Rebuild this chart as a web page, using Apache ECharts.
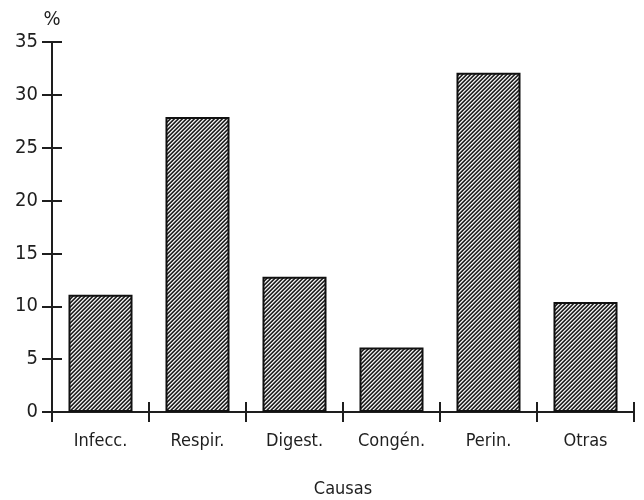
<!DOCTYPE html>
<html>
<head>
<meta charset="utf-8">
<script src="https://cdn.jsdelivr.net/npm/echarts@6/dist/echarts.min.js"></script>
<style>
  html, body { margin: 0; padding: 0; background: #fff; }
  #chart { width: 644px; height: 500px; }
</style>
</head>
<body>
<div id="chart"></div>
<script>
// datos
const causas = ['Infecc.', 'Respir.', 'Digest.', 'Congén.', 'Perin.', 'Otras'];
const porcentajes = [11.1, 27.9, 12.8, 6.1, 32.1, 10.4];
const yTicks = [0, 5, 10, 15, 20, 25, 30, 35];

const FONT = '"Liberation Sans Narrow", "DejaVu Sans Condensed", "Liberation Sans", sans-serif';
const INK = '#1e1e1e';

// trama diagonal tipo fotocopia
function makePattern() {
    const c = document.createElement('canvas');
    c.width = 4;
    c.height = 4;
    const ctx = c.getContext('2d');
    const tonos = ['#1a1a1a', '#4a4a4a', '#eeeeee', '#a0a0a0'];
    for (let x = 0; x < 4; x++) {
        for (let y = 0; y < 4; y++) {
            ctx.fillStyle = tonos[(x + y) % 4];
            ctx.fillRect(x, y, 1, 1);
        }
    }
    return c;
}

const chart = echarts.init(document.getElementById('chart'));

const yBase = {
    type: 'value',
    min: 0,
    max: 35,
    interval: 5,
    splitLine: { show: false },
};

const option = {
    animation: false,
    backgroundColor: '#fff',
    grid: { left: 52, right: 10, top: 42, bottom: 88, outerBoundsMode: 'none' },
    xAxis: [
        {
            type: 'category',
            data: causas,
            name: 'Causas',
            nameLocation: 'middle',
            nameGap: 68,
            nameTextStyle: { fontFamily: FONT, fontSize: 18, color: INK },
            axisLine: { lineStyle: { color: INK, width: 2 } },
            axisTick: { show: true, length: 10, lineStyle: { color: INK, width: 2 } },
            axisLabel: { fontFamily: FONT, fontSize: 18, color: INK, margin: 20 },
        },
        {
            type: 'category',
            data: causas,
            position: 'bottom',
            axisLine: { show: false },
            axisTick: { show: true, inside: true, length: 10, lineStyle: { color: INK, width: 2 } },
            axisLabel: { show: false },
        }
    ],
    yAxis: [
        Object.assign({}, yBase, {
            name: '%',
            nameLocation: 'end',
            nameGap: 12,
            nameTextStyle: { fontFamily: FONT, fontSize: 20, color: INK, align: 'center' },
            axisLine: { show: true, lineStyle: { color: INK, width: 2 } },
            axisTick: { show: true, length: 10, lineStyle: { color: INK, width: 2 } },
            axisLabel: {
                fontFamily: FONT, fontSize: 20, color: INK, margin: 14,
                customValues: yTicks
            },
        }),
        Object.assign({}, yBase, {
            position: 'left',
            axisLine: { show: false },
            axisTick: { show: true, inside: true, length: 10, lineStyle: { color: INK, width: 2 } },
            axisLabel: { show: false },
        })
    ],
    series: [
        {
            type: 'bar',
            data: porcentajes,
            xAxisIndex: 0,
            yAxisIndex: 0,
            barCategoryGap: '34%',
            itemStyle: {
                color: { image: makePattern(), repeat: 'repeat' },
                borderColor: '#111',
                borderWidth: 2,
            },
        }
    ]
};

chart.setOption(option);
</script>
</body>
</html>
